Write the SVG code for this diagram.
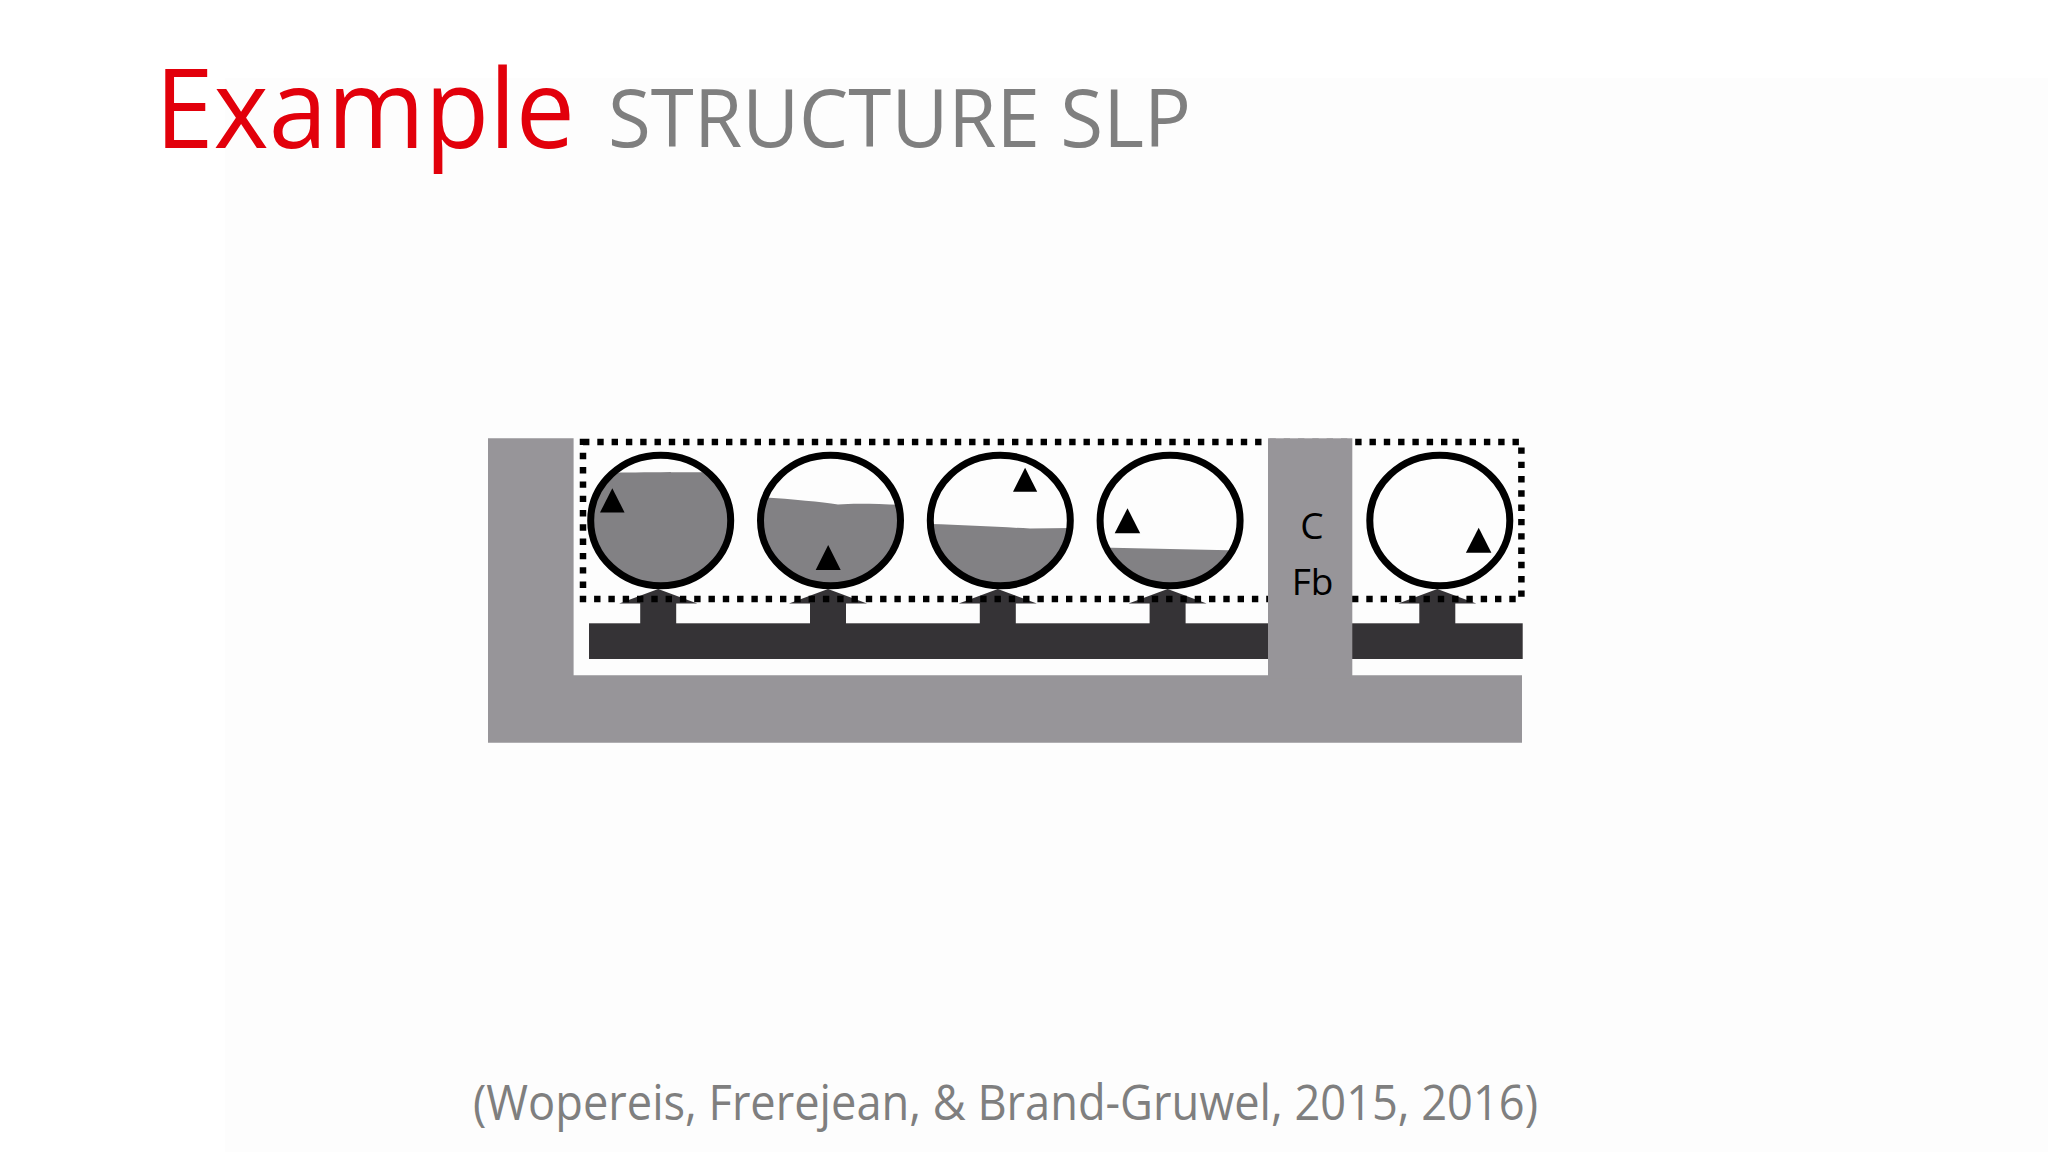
<svg xmlns="http://www.w3.org/2000/svg" width="2048" height="1152" viewBox="0 0 2048 1152">
<style>
.ring{fill:none;stroke:#000;stroke-width:7}
.lvl{fill:#828184}
.tri{fill:#000}
.arrow{fill:#353336}
.gray{fill:#979599}
.lbl{font-family:"Open Sans","Noto Sans",sans-serif;font-size:37px;fill:#000;text-anchor:middle}
</style>
<defs>
<clipPath id="c1"><ellipse cx="660.7" cy="520.5" rx="70" ry="65.3"/></clipPath>
<clipPath id="c2"><ellipse cx="830.5" cy="520.5" rx="70" ry="65.3"/></clipPath>
<clipPath id="c3"><ellipse cx="1000.3" cy="520.5" rx="70" ry="65.3"/></clipPath>
<clipPath id="c4"><ellipse cx="1170.1" cy="520.5" rx="70" ry="65.3"/></clipPath>
</defs>
<rect width="2048" height="1152" fill="#ffffff"/>
<rect x="225" y="78" width="1823" height="1074" fill="#fdfdfd"/>
<text x="155" y="148" font-family="'Open Sans','Noto Sans',sans-serif" font-size="110" fill="#e2000b" textLength="420" lengthAdjust="spacingAndGlyphs">Example</text>
<text x="608" y="147" font-family="'Open Sans','Noto Sans',sans-serif" font-size="81" fill="#7f7f7f" textLength="583" lengthAdjust="spacingAndGlyphs">STRUCTURE SLP</text>
<g id="frame">
<path class="gray" d="M488,438.3 H573.6 V675.3 H1522 V742.7 H488 Z"/>
<rect x="589" y="623.3" width="933.7" height="35.7" fill="#353336"/>
</g>
<g id="connectors">
<g class="arrow">
<polygon points="658.2,589 619.2,603.5 697.2,603.5"/><rect x="640.2" y="603" width="36" height="21"/>
<polygon points="828,589 789,603.5 867,603.5"/><rect x="810" y="603" width="36" height="21"/>
<polygon points="997.8,589 958.8,603.5 1036.8,603.5"/><rect x="979.8" y="603" width="36" height="21"/>
<polygon points="1167.6,589 1128.6,603.5 1206.6,603.5"/><rect x="1149.6" y="603" width="36" height="21"/>
<polygon points="1437.3,589 1398.3,603.5 1476.3,603.5"/><rect x="1419.3" y="603" width="36" height="21"/>
</g>
</g>
<g id="node1">
<path class="lvl" clip-path="url(#c1)" d="M585,473.5 C620,472 680,472.5 740,472 V600 H585 Z"/>
<ellipse class="ring" cx="660.7" cy="520.5" rx="70" ry="65.3"/>
<polygon class="tri" points="612.3,488.3 600,512.5 624.6,512.5"/>
</g>
<g id="node2">
<path class="lvl" clip-path="url(#c2)" d="M756,497 C790,499 820,502 838,504.5 C855,503 880,504 905,505 V600 H756 Z"/>
<ellipse class="ring" cx="830.5" cy="520.5" rx="70" ry="65.3"/>
<polygon class="tri" points="828.2,545 815.7,570 840.7,570"/>
</g>
<g id="node3">
<path class="lvl" clip-path="url(#c3)" d="M926,524 C960,525 1000,527 1030,528.5 L1075,528 V600 H926 Z"/>
<ellipse class="ring" cx="1000.3" cy="520.5" rx="70" ry="65.3"/>
<polygon class="tri" points="1025.1,467.7 1013,491.7 1037.2,491.7"/>
</g>
<g id="node4">
<path class="lvl" clip-path="url(#c4)" d="M1096,547.5 L1170,549 L1245,550.5 V600 H1096 Z"/>
<ellipse class="ring" cx="1170.1" cy="520.5" rx="70" ry="65.3"/>
<polygon class="tri" points="1127.5,508.3 1114.7,533.3 1140.2,533.3"/>
</g>
<g id="node5">
<ellipse class="ring" cx="1439.8" cy="520.5" rx="70" ry="65.3"/>
<polygon class="tri" points="1478.7,527.7 1465.9,552.7 1491.4,552.7"/>
</g>
<g id="group-box">
<rect x="583" y="442" width="938.4" height="157" fill="none" stroke="#000" stroke-width="6.5" stroke-dasharray="6.4 7.9"/>
</g>
<g id="cfb">
<rect class="gray" x="1268" y="438.3" width="84.3" height="240"/>
<text class="lbl" x="1312" y="539">C</text>
<text class="lbl" x="1312.5" y="595">Fb</text>
</g>
<text x="473" y="1120" font-family="'Open Sans','Noto Sans',sans-serif" font-size="50" fill="#7f7f7f" textLength="1065" lengthAdjust="spacingAndGlyphs">(Wopereis, Frerejean, &amp; Brand-Gruwel, 2015, 2016)</text>
</svg>
